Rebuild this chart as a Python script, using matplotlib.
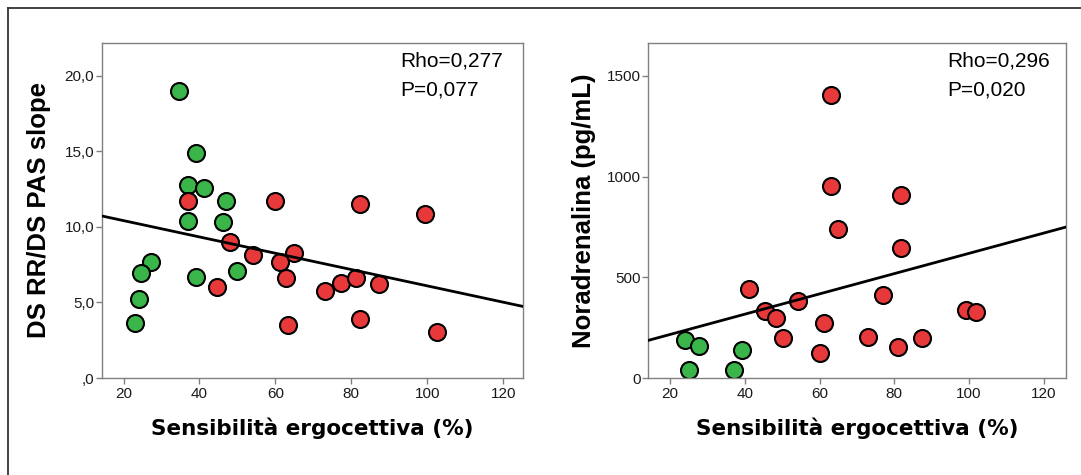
import matplotlib
matplotlib.use("Agg")
import matplotlib.pyplot as plt
from matplotlib.lines import Line2D

# --- data -------------------------------------------------------------
# Sensibilità ergocettiva (%) vs DS RR/DS PAS slope
slope_green_x = [34.7, 39.1, 37.0, 41.1, 47.0, 37.0, 46.1, 27.2, 24.7, 24.1, 23.1, 39.1, 50.0]
slope_green_y = [19.0, 14.9, 12.8, 12.55, 11.7, 10.4, 10.35, 7.7, 6.95, 5.25, 3.65, 6.7, 7.1]
slope_red_x = [37.0, 59.9, 82.2, 99.3, 48.1, 54.1, 65.0, 61.1, 62.9, 44.7,
               73.1, 77.2, 81.1, 87.2, 63.2, 82.2, 102.5]
slope_red_y = [11.7, 11.75, 11.5, 10.85, 9.0, 8.15, 8.25, 7.7, 6.6, 6.0,
               5.75, 6.3, 6.6, 6.25, 3.5, 3.9, 3.05]

# Sensibilità ergocettiva (%) vs Noradrenalina (pg/mL)
na_green_x = [23.9, 27.8, 25.0, 37.2, 39.1]
na_green_y = [190, 157, 41, 41, 141]
na_red_x = [63.0, 63.0, 81.9, 65.0, 81.9, 41.1, 54.2, 77.0, 45.3, 48.3,
            99.1, 102.0, 61.2, 50.2, 73.0, 87.4, 60.0, 81.0]
na_red_y = [1406, 954, 910, 741, 645, 442, 380, 410, 331, 298,
            336, 327, 273, 198, 203, 198, 124, 152]

# fitted lines: (intercept, slope)
slope_fit = (11.5, -0.054)
na_fit = (115.6, 5.03)

stats_slope = ["Rho=0,277", "P=0,077"]
stats_na = ["Rho=0,296", "P=0,020"]

x_ticks = [20, 40, 60, 80, 100, 120]
slope_ticks = [0, 5, 10, 15, 20]
slope_tick_labels = [",0", "5,0", "10,0", "15,0", "20,0"]
na_ticks = [0, 500, 1000, 1500]
na_tick_labels = ["0", "500", "1000", "1500"]

x_label = "Sensibilità ergocettiva (%)"
slope_label = "DS RR/DS PAS slope"
na_label = "Noradrenalina (pg/mL)"

# --- style ------------------------------------------------------------
GREEN = "#39B54A"
RED = "#E8393A"
AXIS_GREY = "#808080"
TICK_FONT = ["Liberation Sans", "DejaVu Sans"]

fig = plt.figure(figsize=(10.81, 4.75), dpi=100)
fig.patch.set_facecolor("white")

ax1 = fig.add_axes([0.0941, 0.2042, 0.3900, 0.7059])
ax2 = fig.add_axes([0.5999, 0.2042, 0.3860, 0.7059])


def draw_panel(ax, gx, gy, rx, ry, fit, xlim, ylim, yticks, ylabels,
               ylab, ylab_x, stats, stats_x):
    ax.scatter(gx, gy, s=150, c=GREEN, edgecolors="black", linewidths=1.5, zorder=2)
    ax.scatter(rx, ry, s=150, c=RED, edgecolors="black", linewidths=1.5, zorder=2)
    ax.axline((0, fit[0]), slope=fit[1], color="black", lw=2.0, zorder=3)

    ax.set_xlim(*xlim)
    ax.set_ylim(*ylim)
    ax.set_xticks(x_ticks)
    ax.set_xticklabels([str(t) for t in x_ticks])
    ax.set_yticks(yticks)
    ax.set_yticklabels(ylabels)

    for sp in ax.spines.values():
        sp.set_color(AXIS_GREY)
        sp.set_linewidth(1.0)
    ax.tick_params(axis="both", direction="out", length=4.2, width=1.0,
                   color=AXIS_GREY, labelcolor="#1a1a1a", labelsize=11)
    ax.tick_params(axis="x", pad=2)
    ax.tick_params(axis="y", pad=1.2)
    for lbl in ax.get_xticklabels() + ax.get_yticklabels():
        lbl.set_family(TICK_FONT)

    ax.set_xlabel(x_label, fontsize=15.5, fontweight="bold",
                  family=["DejaVu Sans"], va="center")
    ax.xaxis.set_label_coords(0.5, -0.149)
    ax.set_ylabel(ylab, fontsize=18.5, fontweight="bold",
                  family=["Liberation Sans", "DejaVu Sans"], va="center")
    ax.yaxis.set_label_coords(ylab_x, 0.5)

    ax.text(stats_x, 0.928, stats[0], transform=ax.transAxes, fontsize=15,
            family=TICK_FONT, va="baseline", ha="left", color="black")
    ax.text(stats_x, 0.843, stats[1], transform=ax.transAxes, fontsize=15,
            family=TICK_FONT, va="baseline", ha="left", color="black")


draw_panel(ax1, slope_green_x, slope_green_y, slope_red_x, slope_red_y, slope_fit,
           (14.25, 125.3), (0, 22.2), slope_ticks, slope_tick_labels,
           slope_label, -0.148, stats_slope, 0.709)
draw_panel(ax2, na_green_x, na_green_y, na_red_x, na_red_y, na_fit,
           (14.2, 125.9), (0, 1664), na_ticks, na_tick_labels,
           na_label, -0.155, stats_na, 0.7153)

# outer frame (top and left edges)
fy = 1 - 8 / 475
fx = 8 / 1081
fig.add_artist(Line2D([fx, 1.0], [fy, fy], transform=fig.transFigure,
                      color="#333333", lw=1.3))
fig.add_artist(Line2D([fx, fx], [0.0, fy], transform=fig.transFigure,
                      color="#333333", lw=1.3))

fig.savefig("out.png", dpi=100, facecolor="white")
